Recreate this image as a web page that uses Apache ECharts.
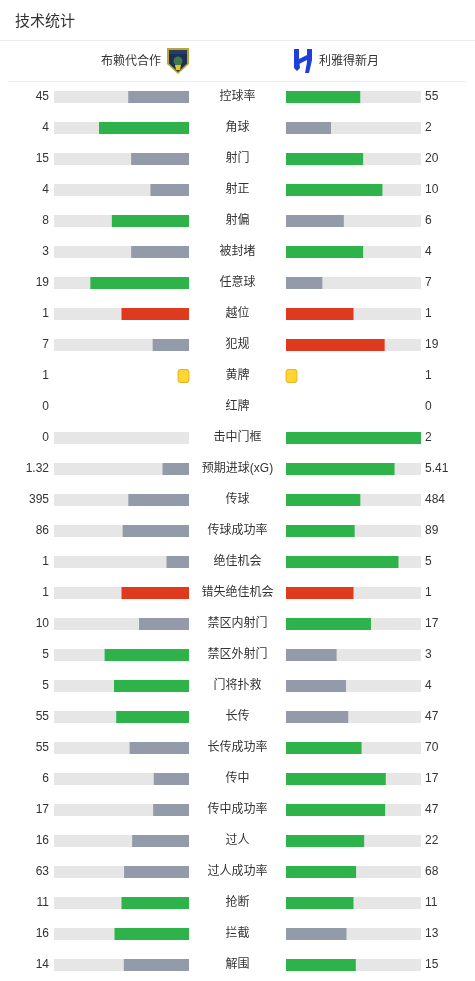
<!DOCTYPE html>
<html><head><meta charset="utf-8">
<style>html,body{margin:0;padding:0;background:#fff;}#c{width:475px;height:981px;}</style>
<script src="https://cdn.jsdelivr.net/npm/echarts@6/dist/echarts.min.js"></script>
</head><body><div id="c"></div>
<script>
const teams = ['布赖代合作', '利雅得新月'];
const statNames = ['控球率','角球','射门','射正','射偏','被封堵','任意球','越位','犯规','黄牌','红牌','击中门框','预期进球(xG)','传球','传球成功率','绝佳机会','错失绝佳机会','禁区内射门','禁区外射门','门将扑救','长传','长传成功率','传中','传中成功率','过人','过人成功率','抢断','拦截','解围'];
const homeValues = [45,4,15,4,8,3,19,1,7,1,0,0,1.32,395,86,1,1,10,5,5,55,55,6,17,16,63,11,16,14];
const awayValues = [55,2,20,10,6,4,7,1,19,1,0,2,5.41,484,89,5,1,17,3,4,47,70,17,47,22,68,11,13,15];
// w = highlighted (green), l = other (gray), r = red, y = card icon
const homeKinds = ['l','w','l','l','w','l','w','r','l','y','-','l','l','l','l','l','r','l','w','w','w','l','l','l','l','l','w','w','l'];
const awayKinds = ['w','l','w','w','l','w','l','r','r','y','-','w','w','w','w','w','r','w','l','l','l','w','w','w','w','w','w','l','w'];

const COLORS = {w:'#2db34a', l:'#939bab', r:'#e03a1e'};
const FONT = '"Liberation Sans", "Noto Sans CJK SC", sans-serif';
const TXT = '#333';

function share(i, side) {
  const h = homeValues[i], a = awayValues[i], t = h + a;
  if (t === 0) return '-';
  return (side === 0 ? h : a) / t;
}
function barData(side) {
  const kinds = side === 0 ? homeKinds : awayKinds;
  return statNames.map((n, i) => {
    if (kinds[i] === 'y' || kinds[i] === '-') return '-';
    return {value: share(i, side), itemStyle: {color: COLORS[kinds[i]]}};
  });
}
function trackData(side) {
  const kinds = side === 0 ? homeKinds : awayKinds;
  return statNames.map((n, i) => (kinds[i] === 'y' || kinds[i] === '-') ? '-' : 1);
}
function cardData(side) {
  const kinds = side === 0 ? homeKinds : awayKinds;
  const out = [];
  statNames.forEach((n, i) => { if (kinds[i] === 'y') out.push([0, n]); });
  return out;
}

const chart = echarts.init(document.getElementById('c'), null, {renderer: 'canvas'});
const gridTop = 81.5, gridH = 899;
const baseCat = {type: 'category', data: statNames, inverse: true,
  axisLine: {show: false}, axisTick: {show: false}, splitLine: {show: false}};

chart.setOption({
  animation: false,
  textStyle: {fontFamily: FONT},
  title: {text: '技术统计', left: 10, top: 9, textStyle: {fontSize: 15, fontWeight: 'normal', color: TXT, fontFamily: FONT}},
  grid: [
    {left: 54, width: 135, top: gridTop, height: gridH},
    {left: 286, width: 135, top: gridTop, height: gridH}
  ],
  xAxis: [
    {gridIndex: 0, type: 'value', min: 0, max: 1, inverse: true, show: false},
    {gridIndex: 1, type: 'value', min: 0, max: 1, show: false}
  ],
  yAxis: [
    Object.assign({}, baseCat, {gridIndex: 0, position: 'left',
      axisLabel: {margin: 5, fontSize: 12, color: TXT, fontFamily: FONT, padding: [2, 0, 0, 0],
        formatter: (v, i) => String(homeValues[i])}}),
    Object.assign({}, baseCat, {gridIndex: 0, position: 'right',
      axisLabel: {margin: 48.5, align: 'center', fontSize: 12, color: TXT, fontFamily: FONT, padding: [2, 0, 0, 0]}}),
    Object.assign({}, baseCat, {gridIndex: 1, position: 'right',
      axisLabel: {margin: 4, align: 'left', fontSize: 12, color: TXT, fontFamily: FONT, padding: [2, 0, 0, 0],
        formatter: (v, i) => String(awayValues[i])}})
  ],
  series: [
    {type: 'bar', xAxisIndex: 0, yAxisIndex: 0, data: trackData(0), barWidth: 12, barGap: '-100%',
      itemStyle: {color: '#e6e6e6'}, silent: true},
    {type: 'bar', xAxisIndex: 0, yAxisIndex: 0, data: barData(0), barWidth: 12, barGap: '-100%'},
    {type: 'scatter', xAxisIndex: 0, yAxisIndex: 0, data: cardData(0), symbol: 'roundRect',
      symbolSize: [11, 13], symbolOffset: [-5.5, 0],
      itemStyle: {color: '#ffcc00', borderColor: '#e0a500', borderWidth: 1}},
    {type: 'bar', xAxisIndex: 1, yAxisIndex: 2, data: trackData(1), barWidth: 12, barGap: '-100%',
      itemStyle: {color: '#e6e6e6'}, silent: true},
    {type: 'bar', xAxisIndex: 1, yAxisIndex: 2, data: barData(1), barWidth: 12, barGap: '-100%'},
    {type: 'scatter', xAxisIndex: 1, yAxisIndex: 2, data: cardData(1), symbol: 'roundRect',
      symbolSize: [11, 13], symbolOffset: [5.5, 0],
      itemStyle: {color: '#ffcc00', borderColor: '#e0a500', borderWidth: 1}}
  ],
  graphic: [
    {type: 'line', shape: {x1: 0, y1: 40.5, x2: 475, y2: 40.5}, style: {stroke: '#ececec', lineWidth: 1}},
    {type: 'line', shape: {x1: 8, y1: 81.5, x2: 466, y2: 81.5}, style: {stroke: '#ececec', lineWidth: 1}},
    {type: 'text', x: 161, y: 62, style: {text: teams[0], fill: TXT, font: '12px ' + FONT, textAlign: 'right', textVerticalAlign: 'middle'}},
    {type: 'text', x: 319, y: 62, style: {text: teams[1], fill: TXT, font: '12px ' + FONT, textAlign: 'left', textVerticalAlign: 'middle'}},
    // home crest (approximate shield)
    {type: 'polygon', shape: {points: [[167,48],[189,48],[189,64],[178,74],[167,64]]}, style: {fill: '#b9a531'}},
    {type: 'polygon', shape: {points: [[169,50],[187,50],[187,63.5],[178,72],[169,63.5]]}, style: {fill: '#1d2f55'}},
    {type: 'rect', shape: {x: 169, y: 50, width: 18, height: 4}, style: {fill: '#2a3b66'}},
    {type: 'circle', shape: {cx: 178, cy: 61, r: 4.5}, style: {fill: '#3f7a4a'}},
    {type: 'polygon', shape: {points: [[175,65],[181,65],[180,70],[176,70]]}, style: {fill: '#e9c51f'}},
    // away crest (approximate)
    {type: 'polygon', shape: {points: [[294,49],[299,49],[299,59],[300,68],[297,71],[294,68]]}, style: {fill: '#1f3fd8'}},
    {type: 'polygon', shape: {points: [[307,49],[312,49],[312,60],[309,73],[305,73],[307,62]]}, style: {fill: '#1f3fd8'}},
    {type: 'polygon', shape: {points: [[299,59],[307,55],[307,60],[299,64]]}, style: {fill: '#1f3fd8'}}
  ]
});
</script></body></html>
